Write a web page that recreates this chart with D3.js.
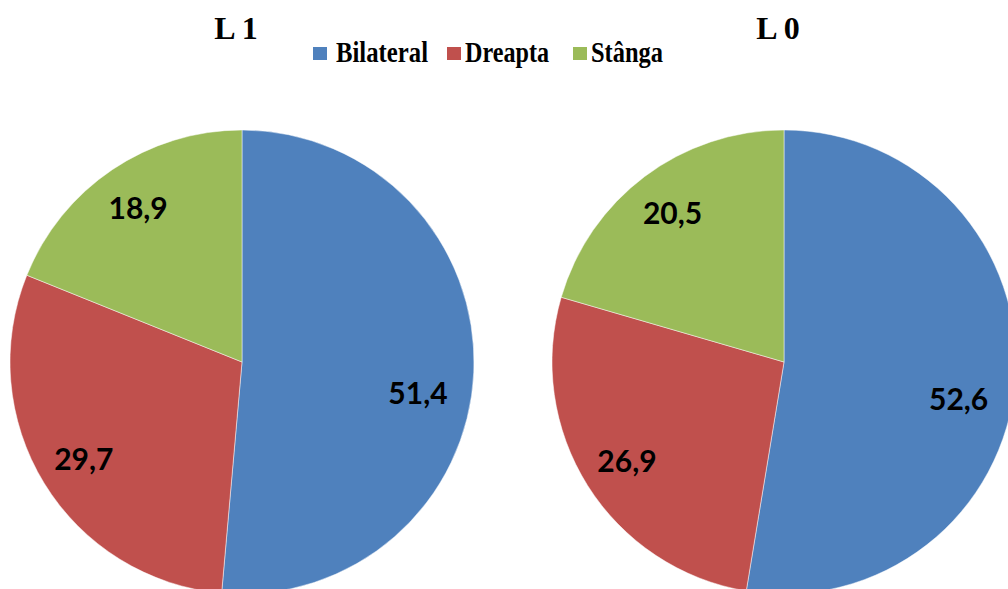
<!DOCTYPE html>
<html>
<head>
<meta charset="utf-8">
<script src="https://cdn.jsdelivr.net/npm/d3@7/dist/d3.min.js"></script>
<style>
  html, body { margin: 0; padding: 0; background: #fff; }
  svg { display: block; }
</style>
</head>
<body>
<svg id="chart" width="1008" height="589"></svg>
<script>
// Categories and values (percent) for each group
const categories = ["Bilateral", "Dreapta", "Stânga"];
const groups = ["L 1", "L 0"];
const valuesL1 = [51.4, 29.7, 18.9];
const valuesL0 = [52.6, 26.9, 20.5];
const colors = ["#4F81BD", "#C0504D", "#9BBB59"];

const svg = d3.select("#chart");

const color = d3.scaleOrdinal().domain(categories).range(colors);
const fmt = v => d3.format(".1f")(v).replace(".", ",");

const radius = 232;
const centerX = d3.scalePoint().domain(groups).range([242, 784]);
const centerY = 362;

const pie = d3.pie().sort(null).value(d => d.value);
const arc = d3.arc().innerRadius(0).outerRadius(radius);

function labelPos(d) {
  // mid-angle label placement, large slices pushed slightly further round
  let a = (d.startAngle + d.endAngle) / 2;
  let r = radius * 0.80;
  if (d.data.category === "Bilateral") { a += 0.13; r = radius * 0.77; }
  return [Math.sin(a) * r, -Math.cos(a) * r];
}

const seriesByGroup = { "L 1": valuesL1, "L 0": valuesL0 };

groups.forEach(g => {
  const data = categories.map((c, i) => ({ category: c, value: seriesByGroup[g][i] }));
  const cx = centerX(g);

  // group title
  svg.append("text")
    .attr("x", cx - 6)
    .attr("y", 39)
    .attr("text-anchor", "middle")
    .attr("font-family", "'Liberation Serif', 'Times New Roman', serif")
    .attr("font-weight", "bold")
    .attr("font-size", 32)
    .attr("fill", "#000")
    .text(g);

  const gp = svg.append("g").attr("transform", `translate(${cx},${centerY})`);
  const arcs = pie(data);

  gp.selectAll("path")
    .data(arcs)
    .join("path")
    .attr("d", arc)
    .attr("fill", d => color(d.data.category))
    .attr("stroke", "#ffffff")
    .attr("stroke-opacity", 0.6)
    .attr("stroke-width", 0.8);

  gp.selectAll("text.lbl")
    .data(arcs)
    .join("text")
    .attr("class", "lbl")
    .attr("transform", d => `translate(${labelPos(d)})`)
    .attr("text-anchor", "middle")
    .attr("dy", "0.36em")
    .attr("font-family", "Lato, 'Noto Sans', sans-serif")
    .attr("font-weight", "bold")
    .attr("font-size", 30)
    .attr("fill", "#000")
    .text(d => fmt(d.value));
});

// legend
const legendItems = [
  { x: 313, tx: 336, w: 92 },
  { x: 447, tx: 465, w: 84 },
  { x: 573, tx: 591, w: 72 }
];
const legend = svg.append("g");
categories.forEach((c, i) => {
  const it = legendItems[i];
  legend.append("rect")
    .attr("x", it.x)
    .attr("y", 47)
    .attr("width", 14)
    .attr("height", 13)
    .attr("fill", color(c));
  legend.append("text")
    .attr("x", it.tx)
    .attr("y", 62)
    .attr("font-family", "'Liberation Serif', 'Times New Roman', serif")
    .attr("font-weight", "bold")
    .attr("font-size", 29)
    .attr("textLength", it.w)
    .attr("lengthAdjust", "spacingAndGlyphs")
    .attr("fill", "#000")
    .text(c);
});
</script>
</body>
</html>
